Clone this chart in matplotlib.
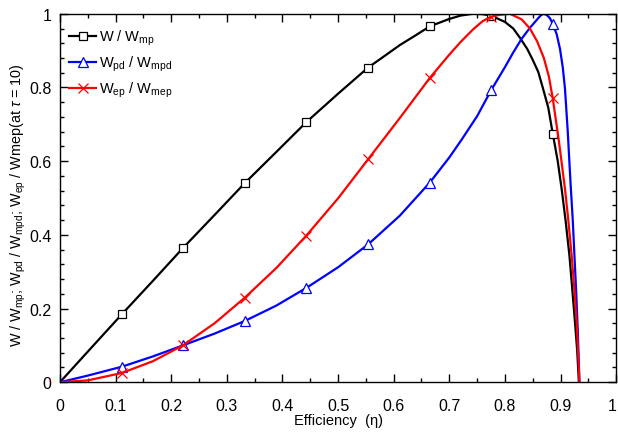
import numpy as np
import matplotlib
matplotlib.use("Agg")
import matplotlib.pyplot as plt
from matplotlib.ticker import MultipleLocator

plt.rcParams['font.family'] = ['Liberation Sans', 'DejaVu Sans']
plt.rcParams['mathtext.fontset'] = 'custom'
plt.rcParams['mathtext.rm'] = 'Liberation Sans'
plt.rcParams['mathtext.it'] = 'Liberation Sans:italic'
plt.rcParams['mathtext.sf'] = 'Liberation Sans'

# marker positions (efficiency)
marker_x = [0.111, 0.221, 0.332, 0.443, 0.554, 0.665, 0.775, 0.886]

# W / W_mp
black_x = [0.0, 0.05, 0.111, 0.167, 0.221, 0.278, 0.332, 0.389, 0.443, 0.5, 0.554, 0.585, 0.611,
           0.64, 0.665, 0.70, 0.72, 0.742, 0.76, 0.775, 0.80, 0.815, 0.827, 0.84, 0.85, 0.86,
           0.868, 0.878, 0.886, 0.895, 0.902, 0.909, 0.916, 0.921, 0.926, 0.930, 0.933]
black_y = [0.0, 0.083, 0.184, 0.275, 0.364, 0.454, 0.540, 0.625, 0.706, 0.783, 0.854, 0.887, 0.915,
           0.942, 0.966, 0.986, 0.995, 1.0, 0.999, 0.995, 0.978, 0.96, 0.935, 0.905, 0.875, 0.842,
           0.80, 0.745, 0.675, 0.60, 0.525, 0.44, 0.344, 0.255, 0.163, 0.085, 0.0]

# W_pd / W_mpd
blue_x = [0.0, 0.05, 0.111, 0.167, 0.221, 0.278, 0.332, 0.389, 0.443, 0.5, 0.554, 0.611, 0.665,
          0.70, 0.722, 0.75, 0.775, 0.80, 0.815, 0.83, 0.845, 0.857, 0.864, 0.869, 0.875, 0.881, 0.886,
          0.893, 0.899, 0.904, 0.908, 0.913, 0.918, 0.922, 0.925, 0.928, 0.931, 0.934]
blue_y = [0.0, 0.018, 0.042, 0.070, 0.100, 0.132, 0.166, 0.208, 0.256, 0.312, 0.374, 0.452, 0.542,
          0.610, 0.658, 0.722, 0.792, 0.855, 0.895, 0.932, 0.962, 0.983, 0.995, 1.0, 0.997, 0.988, 0.973,
          0.945, 0.905, 0.855, 0.797, 0.68, 0.54, 0.44, 0.344, 0.25, 0.14, 0.0]

# W_ep / W_mep
red_x = [0.0, 0.05, 0.111, 0.167, 0.221, 0.278, 0.332, 0.389, 0.443, 0.5, 0.554, 0.611, 0.665,
         0.70, 0.72, 0.743, 0.76, 0.775, 0.79, 0.809, 0.83, 0.845, 0.858, 0.870, 0.879, 0.886,
         0.897, 0.908, 0.914, 0.920, 0.925, 0.929, 0.932, 0.934]
red_y = [0.0, 0.005, 0.025, 0.057, 0.100, 0.160, 0.229, 0.310, 0.398, 0.499, 0.605, 0.717, 0.826,
         0.889, 0.923, 0.958, 0.980, 0.992, 0.997, 1.0, 0.985, 0.96, 0.925, 0.88, 0.83, 0.771,
         0.655, 0.525, 0.44, 0.344, 0.25, 0.163, 0.07, 0.0]

labels = [r"W / W$_{\rm mp}$", r"W$_{\rm pd}$ / W$_{\rm mpd}$", r"W$_{\rm ep}$ / W$_{\rm mep}$"]

fig = plt.figure(figsize=(6.18, 4.35), dpi=100)
ax = fig.add_axes([0.097, 0.119, 0.9, 0.847])


def mk_idx(xs):
    return [i for i, v in enumerate(xs) if any(abs(v - m) < 1e-9 for m in marker_x)]


ax.plot(black_x, black_y, color='black', lw=1.6, marker='s', ms=6, mfc='white', mec='black',
        mew=0.9, markevery=mk_idx(black_x), label=labels[0])
ax.plot(blue_x, blue_y, color='#0000ff', lw=1.6, marker='^', ms=6.5, mfc='white', mec='#0000ff',
        mew=0.9, markevery=mk_idx(blue_x), label=labels[1])
ax.plot(red_x, red_y, color='#ff0000', lw=1.6, marker='x', ms=7, mec='#ff0000',
        mew=0.9, markevery=mk_idx(red_x), label=labels[2])

ax.set_xlim(0, 1)
ax.set_ylim(0, 1)
ax.xaxis.set_minor_locator(MultipleLocator(0.05))
ax.yaxis.set_minor_locator(MultipleLocator(0.04))
ax.set_xticks(np.arange(0, 1.01, 0.1))
xlabs = ax.set_xticklabels(['0', '0.1', '0.2', '0.3', '0.4', '0.5', '0.6', '0.7', '0.8', '0.9', '1'])
xlabs[-1].set_horizontalalignment('right')
ax.set_yticks(np.arange(0, 1.01, 0.2))
ax.set_yticklabels(['0', '0.2', '0.4', '0.6', '0.8', '1'])
ax.tick_params(which='both', direction='in', top=True, right=True, labelsize=11.5, width=1)
ax.tick_params(which='major', length=6)
ax.tick_params(axis='x', which='major', pad=11)
ax.tick_params(axis='y', which='major', pad=6)
ax.tick_params(which='minor', length=3)
for s in ax.spines.values():
    s.set_linewidth(1.0)

ax.set_xlabel("Efficiency  (η)", fontsize=10.5, labelpad=0)
ax.set_ylabel(r"W / W$_{\rm mp}$; W$_{\rm pd}$ / W$_{\rm mpd}$; W$_{\rm ep}$ / Wmep(at $\tau$ = 10)",
              fontsize=10.4)
ax.yaxis.set_label_coords(-0.058, 0.484)

ax.legend(loc='upper left', frameon=False, fontsize=10.5, handlelength=1.9, handletextpad=0.15,
          labelspacing=0.45, borderaxespad=0.2, bbox_to_anchor=(0.0, 0.985))

fig.savefig("out.png", dpi=100)
